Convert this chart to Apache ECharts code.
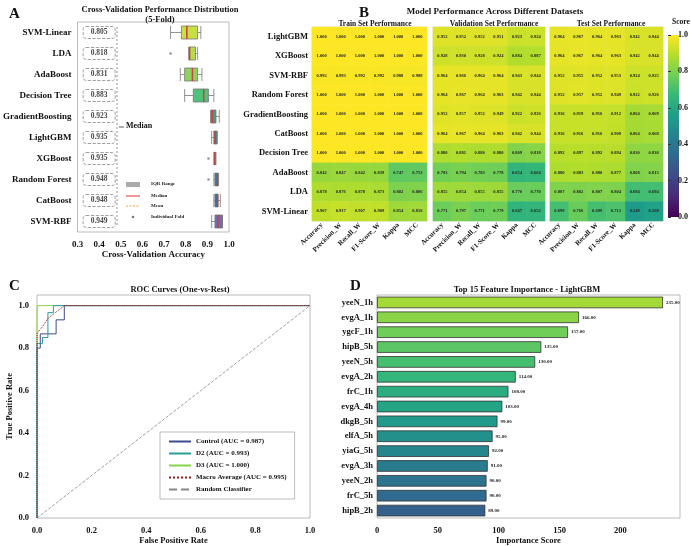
<!DOCTYPE html>
<html><head><meta charset="utf-8">
<script src="https://cdn.jsdelivr.net/npm/echarts@6/dist/echarts.min.js"></script>
<style>html,body{margin:0;padding:0;background:#fff}#c{width:691px;height:546px}</style>
</head><body><div id="c"></div>
<script>
// ---------- DATA ----------
const cvModels = ['SVM-Linear','LDA','AdaBoost','Decision Tree','GradientBoosting','LightGBM','XGBoost','Random Forest','CatBoost','SVM-RBF'];
const cvBoxes = [
 [0.73,0.78,0.805,0.855,0.87],
 [0.815,0.815,0.818,0.845,0.855],
 [0.775,0.795,0.831,0.855,0.875],
 [0.795,0.835,0.883,0.905,0.93],
 [0.915,0.917,0.923,0.94,0.955],
 [0.92,0.93,0.935,0.945,0.945],
 [0.93,0.932,0.935,0.936,0.94],
 [0.93,0.935,0.948,0.948,0.95],
 [0.93,0.935,0.948,0.948,0.96],
 [0.92,0.935,0.949,0.97,0.97]
];
const cvMedians = [0.805,0.818,0.831,0.883,0.923,0.935,0.935,0.948,0.948,0.949];
const cvOutliers = [[0.73,'LDA'],[0.905,'XGBoost'],[0.905,'Random Forest']];
const hmModels = ['LightGBM','XGBoost','SVM-RBF','Random Forest','GradientBoosting','CatBoost','Decision Tree','AdaBoost','LDA','SVM-Linear'];
const hmMetrics = ['Accuracy','Precision_W','Recall_W','F1-Score_W','Kappa','MCC'];
const trainVals = [
 [1,1,1,1,1,1],[1,1,1,1,1,1],[0.992,0.993,0.992,0.992,0.988,0.988],[1,1,1,1,1,1],[1,1,1,1,1,1],
 [1,1,1,1,1,1],[1,1,1,1,1,1],[0.842,0.847,0.842,0.839,0.747,0.753],[0.878,0.876,0.878,0.873,0.802,0.806],[0.907,0.917,0.907,0.909,0.854,0.856]];
const valVals = [
 [0.952,0.952,0.952,0.951,0.923,0.924],[0.928,0.930,0.928,0.924,0.884,0.887],[0.964,0.966,0.964,0.964,0.943,0.944],
 [0.964,0.967,0.964,0.963,0.942,0.944],[0.952,0.957,0.952,0.949,0.922,0.926],[0.964,0.967,0.964,0.963,0.942,0.944],
 [0.880,0.881,0.880,0.880,0.809,0.818],[0.783,0.794,0.783,0.778,0.654,0.664],[0.855,0.854,0.855,0.855,0.770,0.770],
 [0.771,0.797,0.771,0.779,0.647,0.652]];
const testVals = [
 [0.964,0.967,0.964,0.963,0.942,0.944],[0.964,0.967,0.964,0.963,0.942,0.944],[0.952,0.955,0.952,0.953,0.924,0.925],
 [0.952,0.957,0.952,0.949,0.922,0.926],[0.916,0.919,0.916,0.912,0.864,0.869],[0.916,0.916,0.916,0.909,0.864,0.868],
 [0.892,0.897,0.892,0.894,0.830,0.830],[0.880,0.883,0.880,0.877,0.808,0.813],[0.807,0.802,0.807,0.804,0.694,0.694],
 [0.699,0.766,0.699,0.713,0.549,0.568]];
const rocControl = [[0,0],[0,0.8],[0.012,0.8],[0.012,0.867],[0.07,0.867],[0.07,0.933],[0.1,0.933],[0.1,1],[1,1]];
const rocD2 = [[0,0],[0,0.822],[0.02,0.822],[0.02,0.85],[0.04,0.85],[0.04,0.967],[0.06,0.967],[0.06,1],[1,1]];
const rocD3 = [[0,0],[0,1],[1,1]];
const rocMacro = [[0,0],[0,0.87],[0.02,0.9],[0.04,0.94],[0.06,0.96],[0.1,1],[1,1]];
const rocRandom = [[0,0],[1,1]];
const featNames = ['yeeN_1h','evgA_1h','ygcF_1h','hipB_5h','yeeN_5h','evgA_2h','frC_1h','evgA_4h','dkgB_5h','elfA_5h','yiaG_5h','evgA_3h','yeeN_2h','frC_5h','hipB_2h'];
const featVals = [235,166,157,135,130,114,108,103,99,95,92,91,90,90,89];
const cbTicks = [0,0.2,0.4,0.6,0.8,1.0];

// ---------- STYLE ----------
const F = 'Liberation Serif';
const viridis = ['#440154','#482878','#3e4989','#31688e','#26828e','#1f9e89','#35b779','#6ece58','#b5de2b','#fde725'];
function hex(h){return [1,3,5].map(i=>parseInt(h.substr(i,2),16));}
function vir(t){t=Math.max(0,Math.min(1,t));const p=t*(viridis.length-1);const i=Math.min(Math.floor(p),viridis.length-2);const f=p-i;
 const a=hex(viridis[i]),b=hex(viridis[i+1]);return 'rgb('+a.map((v,k)=>Math.round(v+(b[k]-v)*f)).join(',')+')';}
const boxColors = ['#c5df45','#b6dc4c','#8dd35f','#4fc17a','#2ea58c','#2a978e','#33868e','#3b788e','#456a96','#6c6db6'];

const hmData = vals => { const d=[]; vals.forEach((r,i)=>r.forEach((v,j)=>d.push([j,i,v]))); return d; };
const lbl = {fontFamily:F,fontWeight:'bold',color:'#111'};

const grids = [
 {left:73,top:22,width:156,height:210},
 {left:312,top:27,width:115,height:194},
 {left:433,top:27,width:112,height:194},
 {left:550,top:27,width:113,height:194},
 {left:668,top:35,width:11,height:182},
 {left:37,top:295,width:273,height:223},
 {left:377,top:295,width:303,height:223}
];
grids.forEach(g=>{g.show=true;g.borderColor='#aaa';g.borderWidth=0.8;g.containLabel=false;});
grids[1].borderColor=grids[2].borderColor=grids[3].borderColor='#ddd';
grids[4].show=false;

const hmX = gi => ({type:'category',gridIndex:gi,data:hmMetrics,axisTick:{show:false},axisLine:{show:false},
 axisLabel:{...lbl,fontSize:7,rotate:45,margin:3,interval:0}});
const hmY = (gi,show) => ({type:'category',gridIndex:gi,data:hmModels,inverse:true,axisTick:{show:false},axisLine:{show:false},
 axisLabel:{...lbl,fontSize:8.5,show:show,margin:4}});
const hmLabel = {show:true,fontSize:4.5,fontFamily:F,fontWeight:'bold',color:'#222',formatter:p=>p.value[2].toFixed(3)};

const option = {
 animation:false,
 textStyle:{fontFamily:F},
 title:[
  {text:'Cross-Validation Performance Distribution\n(5-Fold)',left:155,top:0,textAlign:'center',textStyle:{...lbl,fontSize:8.5,lineHeight:10}},
  {text:'Model Performance Across Different Datasets',left:490,top:2,textAlign:'center',textStyle:{...lbl,fontSize:9}},
  {text:'Train Set Performance',left:370,top:15,textAlign:'center',textStyle:{...lbl,fontSize:7.5}},
  {text:'Validation Set Performance',left:489,top:15,textAlign:'center',textStyle:{...lbl,fontSize:7.5}},
  {text:'Test Set Performance',left:606,top:15,textAlign:'center',textStyle:{...lbl,fontSize:7.5}},
  {text:'Score',left:667,top:13,textStyle:{...lbl,fontSize:7.5}},
  {text:'ROC Curves (One-vs-Rest)',left:175,top:280,textAlign:'center',textStyle:{...lbl,fontSize:8.5}},
  {text:'Top 15 Feature Importance - LightGBM',left:522,top:280,textAlign:'center',textStyle:{...lbl,fontSize:8.5}},
  {text:'A',left:4,top:2,textStyle:{...lbl,fontSize:15}},
  {text:'B',left:354,top:1,textStyle:{...lbl,fontSize:15}},
  {text:'C',left:4,top:274,textStyle:{...lbl,fontSize:15}},
  {text:'D',left:345,top:274,textStyle:{...lbl,fontSize:15}}
 ],
 grid:grids,
 visualMap:{show:false,min:0,max:1,seriesIndex:[4,5,6],inRange:{color:viridis}},
 legend:{data:['Control (AUC = 0.987)','D2 (AUC = 0.993)','D3 (AUC = 1.000)','Macro Average (AUC = 0.995)','Random Classifier'],
  orient:'vertical',left:160,top:432,itemWidth:22,itemHeight:6,itemGap:5,padding:[6,8,6,8],
  itemStyle:{opacity:0},
  borderColor:'#aaa',borderWidth:0.8,backgroundColor:'#fff',textStyle:{...lbl,fontSize:7}},
 xAxis:[
  {type:'value',gridIndex:0,min:0.3,max:1.0,interval:0.1,splitLine:{show:false},axisLine:{show:false},axisTick:{show:false},
   axisLabel:{...lbl,fontSize:9,formatter:v=>v.toFixed(1)},name:'Cross-Validation Accuracy',nameLocation:'middle',nameGap:17,nameTextStyle:{...lbl,fontSize:9}},
  hmX(1),hmX(2),hmX(3),
  {type:'value',gridIndex:4,show:false},
  {type:'value',gridIndex:5,min:0,max:1,interval:0.2,splitLine:{show:false},axisLine:{show:false},axisTick:{show:false},
   axisLabel:{...lbl,fontSize:8.5,formatter:v=>v.toFixed(1)},name:'False Positive Rate',nameLocation:'middle',nameGap:17,nameTextStyle:{...lbl,fontSize:8.5}},
  {type:'value',gridIndex:6,min:0,max:249,interval:50,splitLine:{show:false},axisLine:{show:false},axisTick:{show:false},
   axisLabel:{...lbl,fontSize:8.5,formatter:v=>v>200?'':String(v)},name:'Importance Score',nameLocation:'middle',nameGap:18,nameTextStyle:{...lbl,fontSize:8.5}}
 ],
 yAxis:[
  {type:'category',gridIndex:0,data:cvModels,inverse:true,axisTick:{show:false},axisLine:{show:false},axisLabel:{...lbl,fontSize:9,margin:6}},
  hmY(1,true),hmY(2,false),hmY(3,false),
  {type:'value',gridIndex:4,min:0,max:1,interval:0.2,position:'right',splitLine:{show:false},axisLine:{show:false},
   axisTick:{show:true,length:3,lineStyle:{color:'#333'}},axisLabel:{...lbl,fontSize:8,margin:3,formatter:v=>v.toFixed(1)}},
  {type:'value',gridIndex:5,min:0,max:1.05,interval:0.2,splitLine:{show:false},axisLine:{show:false},axisTick:{show:false},
   axisLabel:{...lbl,fontSize:8.5,formatter:v=>v>1.001?'':v.toFixed(1)},name:'True Positive Rate',nameLocation:'middle',nameGap:22,nameTextStyle:{...lbl,fontSize:8.5}},
  {type:'category',gridIndex:6,data:featNames,inverse:true,axisTick:{show:false},axisLine:{show:false},axisLabel:{...lbl,fontSize:8.5,margin:4}}
 ],
 series:[
  {type:'boxplot',xAxisIndex:0,yAxisIndex:0,layout:'horizontal',boxWidth:[6,13],
   data:cvBoxes.map((b,i)=>({value:b,itemStyle:{color:boxColors[i],borderColor:'#777',borderWidth:0.8}}))},
  {type:'scatter',xAxisIndex:0,yAxisIndex:0,symbol:'rect',symbolSize:[1.5,13],itemStyle:{color:'#e03030'},
   data:cvMedians.map((m,i)=>[m,cvModels[i]])},
  {type:'scatter',xAxisIndex:0,yAxisIndex:0,symbolSize:2.5,itemStyle:{color:'#777'},data:cvOutliers},
  {type:'scatter',xAxisIndex:0,yAxisIndex:0,symbolSize:0,silent:true,
   data:cvMedians.map((m,i)=>[0.4,cvModels[i]]),
   label:{show:true,position:'inside',formatter:p=>cvMedians[p.dataIndex].toFixed(3),...lbl,fontSize:7.5,
     borderColor:'#666',borderWidth:0.8,borderType:'dashed',borderRadius:3,padding:[2,6,2,6],width:20,align:'center'}},
  {type:'heatmap',xAxisIndex:1,yAxisIndex:1,data:hmData(trainVals),label:hmLabel},
  {type:'heatmap',xAxisIndex:2,yAxisIndex:2,data:hmData(valVals),label:hmLabel},
  {type:'heatmap',xAxisIndex:3,yAxisIndex:3,data:hmData(testVals),label:hmLabel},
  {name:'Random Classifier',type:'line',xAxisIndex:5,yAxisIndex:5,data:rocRandom,symbol:'none',lineStyle:{color:'#888',width:0.8,type:'dashed'},itemStyle:{color:'#888'}},
  {name:'D3 (AUC = 1.000)',type:'line',xAxisIndex:5,yAxisIndex:5,data:rocD3,symbol:'none',lineStyle:{color:'#86d549',width:1},itemStyle:{color:'#86d549'}},
  {name:'Control (AUC = 0.987)',type:'line',xAxisIndex:5,yAxisIndex:5,data:rocControl,symbol:'none',lineStyle:{color:'#3e4a89',width:1},itemStyle:{color:'#3e4a89'}},
  {name:'D2 (AUC = 0.993)',type:'line',xAxisIndex:5,yAxisIndex:5,data:rocD2,symbol:'none',lineStyle:{color:'#2a9d9a',width:1},itemStyle:{color:'#2a9d9a'}},
  {name:'Macro Average (AUC = 0.995)',type:'line',xAxisIndex:5,yAxisIndex:5,data:rocMacro,symbol:'none',lineStyle:{color:'#a01818',width:1,type:'dotted'},itemStyle:{color:'#a01818'}},
  {type:'bar',xAxisIndex:6,yAxisIndex:6,barCategoryGap:'22%',
   data:featVals.map((v,i)=>({value:v,itemStyle:{color:vir(0.86-0.56*i/14),borderColor:'#333',borderWidth:0.8}})),
   label:{show:true,position:'right',distance:3,fontSize:5,fontFamily:F,fontWeight:'bold',color:'#222',formatter:p=>p.value.toFixed(2)}}
 ],
 graphic:[
  {type:'rect',shape:{x:668,y:35,width:11,height:182},style:{fill:new echarts.graphic.LinearGradient(0,1,0,0,viridis.map((c,i)=>({offset:i/(viridis.length-1),color:c})))}},
  {type:'line',shape:{x1:117,y1:27,x2:117,y2:226},style:{stroke:'#777',lineWidth:0.8,lineDash:[2,2]}},
  {type:'line',shape:{x1:119,y1:127,x2:124,y2:127},style:{stroke:'#333',lineWidth:0.8}},
  {type:'text',x:126,y:122,style:{text:'Median',font:'bold 8px "Liberation Serif"',fill:'#111'}},
  {type:'rect',shape:{x:126,y:182,width:14,height:5},style:{fill:'#aaa'}},
  {type:'line',shape:{x1:126,y1:196,x2:140,y2:196},style:{stroke:'#e03030',lineWidth:1}},
  {type:'line',shape:{x1:126,y1:206,x2:140,y2:206},style:{stroke:'#f0a030',lineWidth:1,lineDash:[2,1.5]}},
  {type:'circle',shape:{cx:133,cy:217,r:1.3},style:{fill:'#777'}},
  {type:'text',x:151,y:181,style:{text:'IQR Range',font:'bold 5px "Liberation Serif"',fill:'#222'}},
  {type:'text',x:151,y:193,style:{text:'Median',font:'bold 5px "Liberation Serif"',fill:'#222'}},
  {type:'text',x:151,y:203,style:{text:'Mean',font:'bold 5px "Liberation Serif"',fill:'#222'}},
  {type:'text',x:151,y:214,style:{text:'Individual Fold',font:'bold 5px "Liberation Serif"',fill:'#222'}}
 ]
};
const chart = echarts.init(document.getElementById('c'));
chart.setOption(option);
</script></body></html>
